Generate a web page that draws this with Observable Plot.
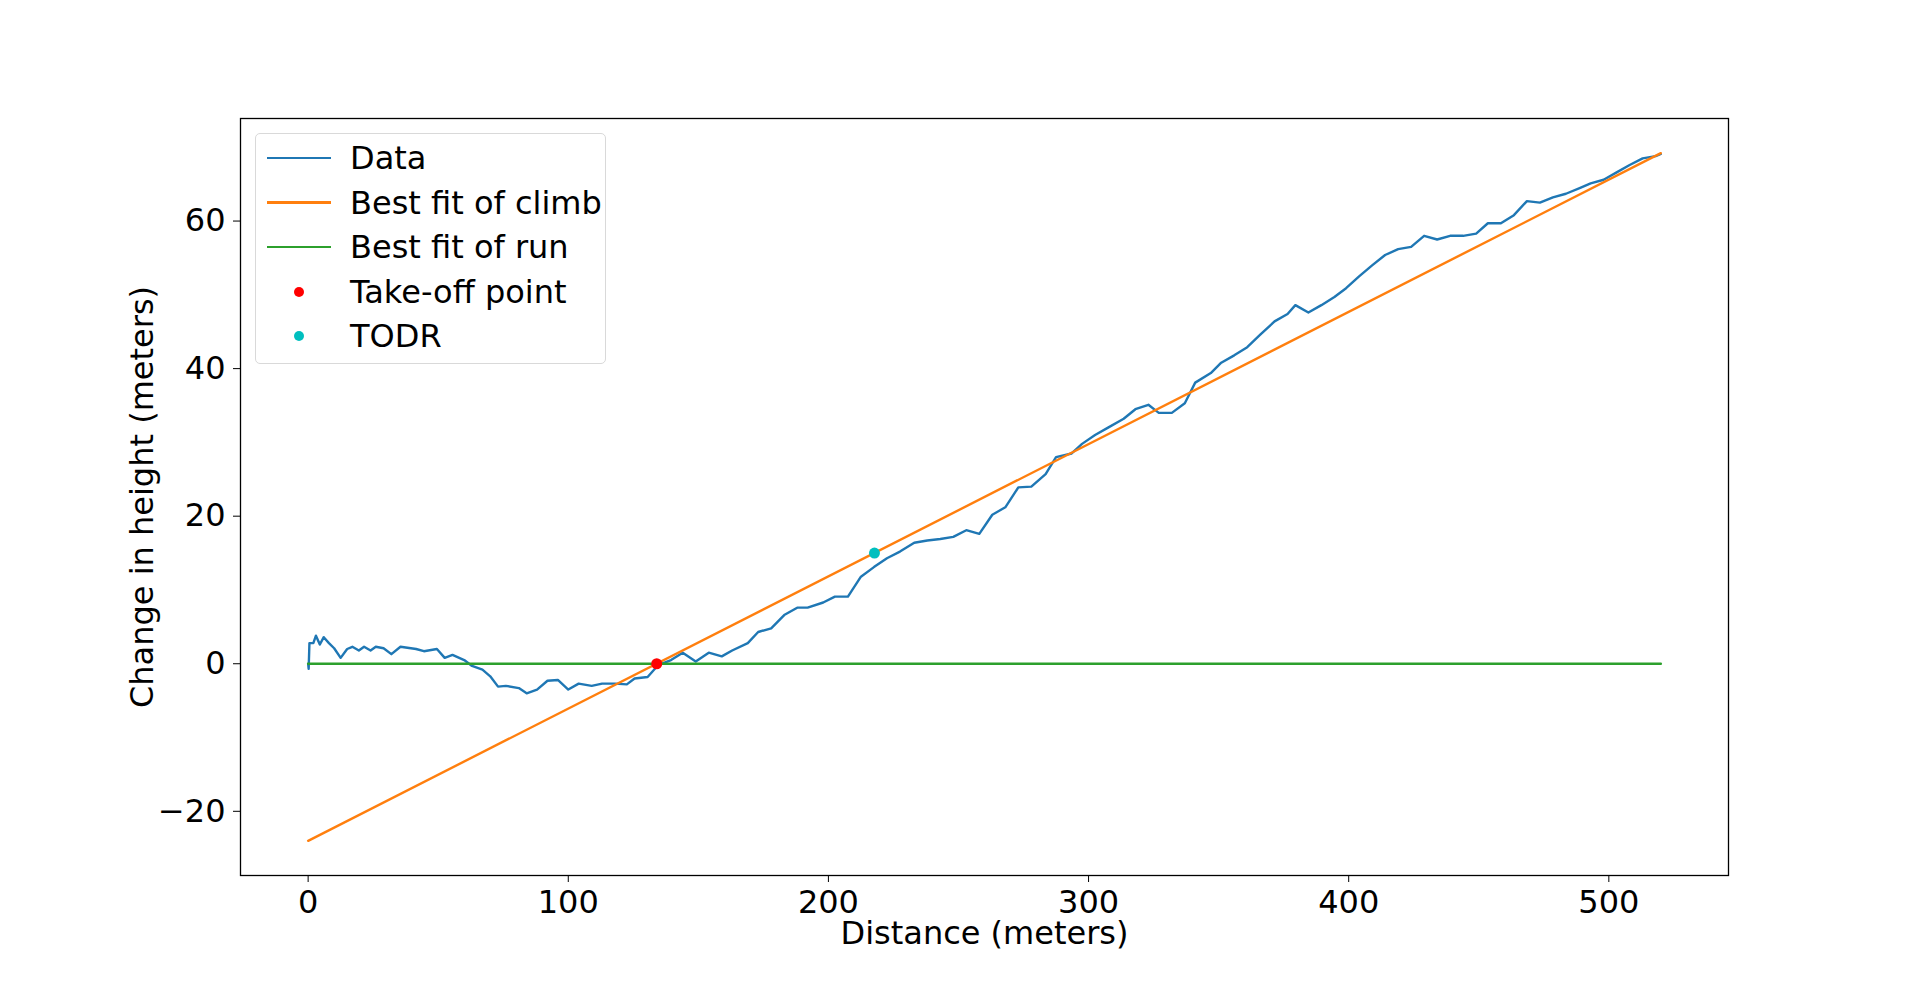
<!DOCTYPE html>
<html>
<head>
<meta charset="utf-8">
<script src="https://cdn.jsdelivr.net/npm/d3@7"></script>
<script src="https://cdn.jsdelivr.net/npm/@observablehq/plot@0.6"></script>
<style>
  body { margin: 0; background: #fff; font-family: "DejaVu Sans", sans-serif; }
  #wrap { position: relative; width: 1920px; height: 983px; }
  #legend { position: absolute; left: 255px; top: 133px; width: 349px; height: 229px;
    border: 1.5px solid #d9d9d9; border-radius: 5px; background: rgba(255,255,255,0.8); font-size: 32px; }
  .row { position: absolute; left: 0; height: 40px; display: flex; align-items: center; }
  .sym { width: 70px; display: flex; justify-content: center; margin-left: 8px; }
  .ln { width: 64px; height: 2.5px; }
  .dt { width: 10px; height: 10px; border-radius: 50%; }
  .lab { margin-left: 16px; color: #000; }
</style>
</head>
<body>
<div id="wrap"><div id="chart"></div><div id="legend"></div></div>
<script>
const distance = [0,0.2,0.5,2,3,4.5,6,8,10,12.5,15,17,19.5,21.5,24,26,29,32,35.5,41.5,44.5,49.5,52.5,55.5,60,63,67,70,73,76,81,84,88,92,96,100,104,109,113,118,122.5,125.5,130.5,134.5,139.5,144,149,154,159,163,169,173,178,183,188,192,198,202.5,207.5,212.5,217.5,222.5,227.5,233,238,243,248,253,258,263,268,273,278,283.5,287.5,293.5,297.5,302.5,307.5,313.5,318,323,327,332,337,341,347,351,356,361,366,371.5,376.5,379.5,384.5,389.5,394.5,399,404,409,414,419,424,429,434,439,444,449,453.5,458.5,463.5,468.5,473.5,478.5,483.5,489,493,498,503,508,513,518,520];
const height = [0,-0.7,2.8,2.8,3.8,2.6,3.6,2.8,2.1,0.8,2,2.3,1.8,2.3,1.8,2.3,2.1,1.3,2.3,2,1.7,2,0.8,1.2,0.5,-0.3,-0.8,-1.7,-3.1,-3,-3.3,-4,-3.5,-2.3,-2.2,-3.5,-2.7,-3,-2.7,-2.7,-2.8,-2,-1.8,-0.2,0.5,1.5,0.3,1.5,1,1.8,2.8,4.3,4.8,6.6,7.6,7.6,8.3,9.1,9.1,11.8,13.1,14.3,15.2,16.4,16.7,16.9,17.2,18.1,17.6,20.2,21.2,23.9,24,25.7,28,28.5,29.8,31,32,33.2,34.5,35.1,34,34,35.3,38.1,39.4,40.8,41.8,42.9,44.6,46.4,47.4,48.6,47.6,48.6,49.7,50.9,52.5,54,55.4,56.2,56.5,58,57.5,58,58,58.3,59.7,59.7,60.8,62.7,62.5,63.2,63.7,64.5,65.1,65.6,66.6,67.6,68.5,68.8,69.1];
const climbFit = [{x: 0, y: -24}, {x: 520, y: 69.2}];
const runFit = [{x: 0, y: 0}, {x: 520, y: 0}];
const takeoff = [{x: 134, y: 0}];
const todr = [{x: 217.7, y: 15}];
const xTicks = [0, 100, 200, 300, 400, 500];
const yTicks = [-20, 0, 20, 40, 60];

const data = distance.map((d, i) => ({x: d, y: height[i]}));
const fmt = d => d < 0 ? "\u2212" + Math.abs(d) : String(d);

const chart = Plot.plot({
  width: 1920,
  height: 983,
  marginLeft: 240,
  marginRight: 192,
  marginTop: 118,
  marginBottom: 108,
  style: {fontSize: "32px", fontFamily: "DejaVu Sans", color: "#000", background: "#fff"},
  x: {domain: [-26, 546]},
  y: {domain: [-28.7, 73.9]},
  marks: [
    Plot.frame({stroke: "#000", strokeWidth: 1.3}),
    Plot.axisX({ticks: xTicks, tickSize: 7, tickPadding: 8, label: null}),
    Plot.axisY({ticks: yTicks, tickSize: 7, tickPadding: 8, tickFormat: fmt, label: null}),
    Plot.text(["Distance (meters)"], {frameAnchor: "bottom", dy: 68, fontSize: 32}),
    Plot.text(["Change in height (meters)"], {frameAnchor: "left", dx: -98, rotate: -90, textAnchor: "middle", fontSize: 32}),
    Plot.line(data, {x: "x", y: "y", stroke: "#1f77b4", strokeWidth: 2.4}),
    Plot.line(climbFit, {x: "x", y: "y", stroke: "#ff7f0e", strokeWidth: 2.4}),
    Plot.line(runFit, {x: "x", y: "y", stroke: "#2ca02c", strokeWidth: 2.4}),
    Plot.dot(takeoff, {x: "x", y: "y", r: 5.5, fill: "red"}),
    Plot.dot(todr, {x: "x", y: "y", r: 5.5, fill: "#00bfbf"})
  ]
});
d3.select("#chart").append(() => chart);

const entries = [
  {label: "Data", color: "#1f77b4", kind: "line"},
  {label: "Best fit of climb", color: "#ff7f0e", kind: "line"},
  {label: "Best fit of run", color: "#2ca02c", kind: "line"},
  {label: "Take-off point", color: "red", kind: "dot"},
  {label: "TODR", color: "#00bfbf", kind: "dot"}
];
const legend = d3.select("#legend");
entries.forEach((e, i) => {
  const row = legend.append("div").attr("class", "row").style("top", (4 + i * 44.5) + "px");
  row.append("div").attr("class", "sym")
    .append("div").attr("class", e.kind === "line" ? "ln" : "dt").style("background", e.color);
  row.append("div").attr("class", "lab").text(e.label);
});
</script>
</body>
</html>
